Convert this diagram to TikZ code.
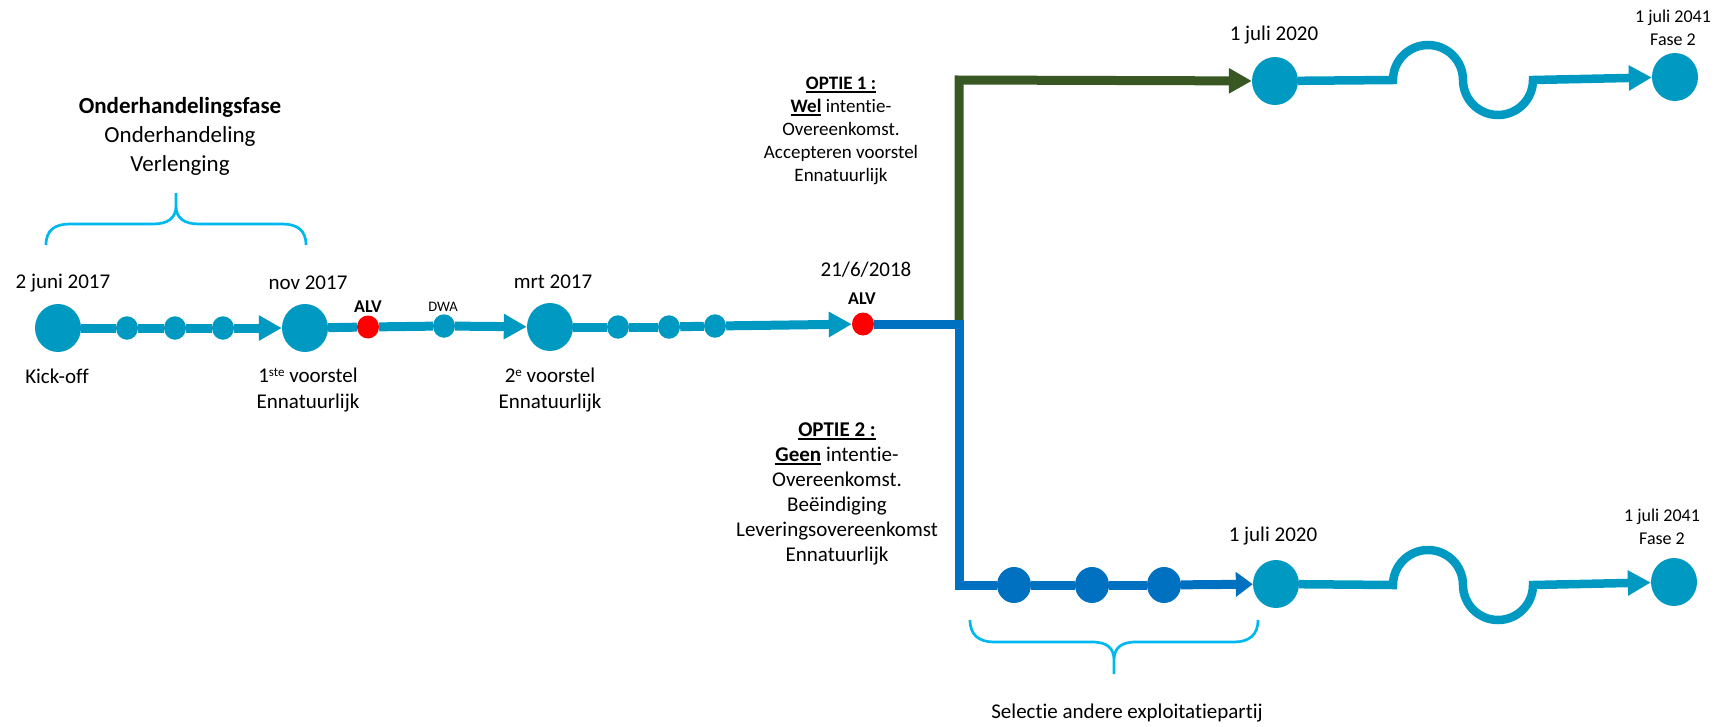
\documentclass[tikz,border=0pt]{standalone}
\usepackage{fontspec}
\setmainfont{Carlito}[Ligatures=CommonOff]
\usetikzlibrary{arrows.meta,shapes.geometric}
\definecolor{lineblue}{RGB}{0,153,194}
\definecolor{optblue}{RGB}{0,112,192}
\definecolor{optgreen}{RGB}{56,87,35}
\definecolor{bracecyan}{RGB}{0,184,240}
\definecolor{alvred}{RGB}{255,0,0}
\newcommand\undr[1]{\setbox0\hbox{#1}\rlap{\rule[-3pt]{\wd0}{1.7pt}}\box0\relax}
\newcommand\hoog[1]{\raisebox{5.5pt}{\fontsize{13}{13}\selectfont #1}}
\begin{document}
\begin{tikzpicture}[x=1pt,y=-1pt,
    milestone/.style={ellipse,fill=lineblue,minimum width=46pt,minimum height=48pt,inner sep=0pt},
    mini/.style={ellipse,fill=lineblue,minimum width=22pt,minimum height=23.5pt,inner sep=0pt},
    alvdot/.style={ellipse,fill=alvred,minimum width=22pt,minimum height=23pt,inner sep=0pt},
    selectdot/.style={ellipse,fill=optblue,minimum width=34pt,minimum height=36pt,inner sep=0pt},
    lbl/.style={font=\fontsize{21}{26.5}\selectfont,inner sep=0pt,align=center},
    headtxt/.style={font=\fontsize{23}{29}\selectfont,inner sep=0pt,align=center},
    opt/.style={font=\fontsize{19}{23}\selectfont,inner sep=0pt,align=center},
    optb/.style={font=\fontsize{21}{25}\selectfont,inner sep=0pt,align=center},
    alvtxt/.style={font=\fontsize{18}{22}\selectfont\bfseries,inner sep=0pt},
    dwatxt/.style={font=\fontsize{14.5}{18}\selectfont,inner sep=0pt},
    fasetxt/.style={font=\fontsize{18}{22.5}\selectfont,inner sep=0pt,align=center},
    tip/.style={-{Triangle[length=23pt,width=24pt]}},
    brace/.style={bracecyan,line width=2.7pt}]
  \useasboundingbox (0,0) rectangle (1733,726);
  \draw
    (58,328) node[milestone] (start){}
    (127,328) node[mini] (a1){}
    (175,328) node[mini] (a2){}
    (223,328) node[mini] (a3){}
    (305,328) node[milestone] (nov){}
    (368,327) node[alvdot] (alv1){}
    (444,326) node[mini] (dwa){}
    (550,327) node[milestone] (mrt){}
    (618,327) node[mini] (b1){}
    (669,327) node[mini] (b2){}
    (715,326) node[mini] (b3){}
    (863,324) node[alvdot] (alv2){}
    (1275,81) node[milestone] (julA){}
    (1675,77) node[milestone] (faseA){}
    (1014,585) node[selectdot] (c1){}
    (1092,585) node[selectdot] (c2){}
    (1164,585) node[selectdot] (c3){}
    (1276,584) node[milestone] (julB){}
    (1674,582) node[milestone] (faseB){};
  \coordinate (split) at (959,324);
  \coordinate (topbend) at (959,80);
  \coordinate (botbend) at (959,585);
  \coordinate (waveA) at (1393,80);
  \coordinate (waveB) at (1393,585);
  \path
    (180,136) node[headtxt] (phase){\textbf{Onderhandelingsfase}\\Onderhandeling\\Verlenging}
    (63,283) node[lbl] (d1){2 juni 2017}
    (57,376) node[lbl] (kick){Kick-off}
    (308,283) node[lbl] (d2){nov 2017}
    (308,390) node[lbl] (v1){1\hoog{ste} voorstel\\Ennatuurlijk}
    (368,307) node[alvtxt] (t1){ALV}
    (443,307) node[dwatxt] (t2){DWA}
    (553,282) node[lbl] (d3){mrt 2017}
    (550,390) node[lbl] (v2){2\hoog{e} voorstel\\Ennatuurlijk}
    (866,270) node[lbl] (d4){21/6/2018}
    (862,299) node[alvtxt] (t3){ALV}
    (841,131) node[opt] (o1){\undr{\textbf{OPTIE 1 :}}\\\undr{\textbf{Wel}} intentie-\\Overeenkomst.\\Accepteren voorstel\\Ennatuurlijk}
    (837,494) node[optb] (o2){\undr{\textbf{OPTIE 2 :}}\\\undr{\textbf{Geen}} intentie-\\Overeenkomst.\\Beëindiging\\Leveringsovereenkomst\\Ennatuurlijk}
    (1274,35) node[lbl] (d5){1 juli 2020}
    (1673,28) node[fasetxt] (d6){1 juli 2041\\Fase 2}
    (1273,536) node[lbl] (d7){1 juli 2020}
    (1662,527) node[fasetxt] (d8){1 juli 2041\\Fase 2}
    (1127,713) node[lbl] (sel){Selectie andere exploitatiepartij};
  \begin{scope}[lineblue,line width=9pt]
    \draw (start) to (a1);
    \draw (a1) to (a2);
    \draw (a2) to (a3);
    \draw[tip] (a3) to (nov);
    \draw (nov) to (alv1);
    \draw (alv1) to (dwa);
    \draw[tip] (dwa) to (mrt);
    \draw (mrt) to (b1);
    \draw (b1) to (b2);
    \draw (b2) to (b3);
    \draw[tip] (b3) to (alv2);
  \end{scope}
  \draw[optgreen,line width=9pt,tip] (split) -- (topbend) -- (julA);
  \begin{scope}[optblue,line width=9pt]
    \draw (alv2) -- (split) -- (botbend) -- (c1);
    \draw (c1) to (c2);
    \draw (c2) to (c3);
    \draw[-{Triangle[length=17pt,width=24pt]}] (c3) to (julB);
  \end{scope}
  \begin{scope}[lineblue,line width=8.5pt,tip]
    \draw (julA) -- (waveA) arc[start angle=180,end angle=0,radius=35pt]
      arc[start angle=180,end angle=360,radius=35pt] -- (faseA);
    \draw (julB) -- (waveB) arc[start angle=180,end angle=0,radius=35pt]
      arc[start angle=180,end angle=360,radius=35pt] -- (faseB);
  \end{scope}
  \draw[brace] (46,245) .. controls (46,230) and (55,224) .. (70,224) -- (153,224)
    .. controls (168,224) and (176,218) .. (176,206) -- (176,193)
    (176,206) .. controls (176,218) and (184,224) .. (199,224) -- (282,224)
    .. controls (297,224) and (306,230) .. (306,245);
  \draw[brace] (970,620) .. controls (970,635) and (979,642) .. (994,642) -- (1092,642)
    .. controls (1107,642) and (1114,648) .. (1114,660) -- (1114,674)
    (1114,660) .. controls (1114,648) and (1121,642) .. (1136,642) -- (1234,642)
    .. controls (1249,642) and (1258,635) .. (1258,620);
\end{tikzpicture}
\end{document}
